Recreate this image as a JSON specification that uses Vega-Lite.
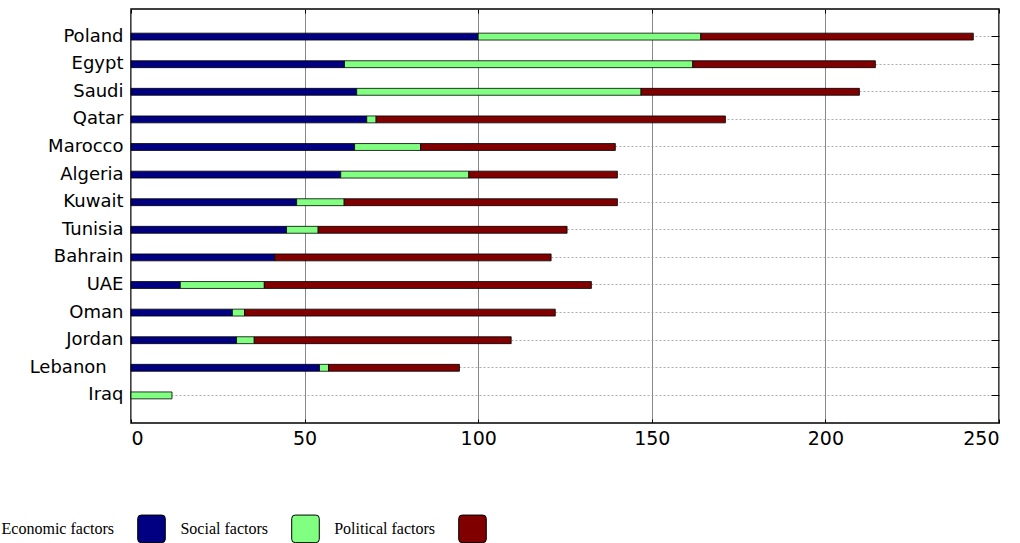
{
  "$schema": "https://vega.github.io/schema/vega-lite/v6.json",
  "description": "Stacked factors by country",
  "autosize": "none",
  "padding": {"left": 131, "top": 9, "right": 21, "bottom": 120},
  "width": 868,
  "height": 414,
  "config": {
    "view": {"stroke": "black", "strokeWidth": 1.5},
    "axis": {
      "labelFont": "DejaVu Sans",
      "labelColor": "black",
      "domain": false,
      "bandPosition": 0.5
    },
    "legend": {
      "labelFont": "Liberation Serif"
    }
  },
  "data": {
    "values": [
      {"country": "Poland", "factor": "Economic factors", "value": 100},
      {"country": "Poland", "factor": "Social factors", "value": 64.1},
      {"country": "Poland", "factor": "Political factors", "value": 78.5},
      {"country": "Egypt", "factor": "Economic factors", "value": 61.5},
      {"country": "Egypt", "factor": "Social factors", "value": 100.3},
      {"country": "Egypt", "factor": "Political factors", "value": 52.6},
      {"country": "Saudi", "factor": "Economic factors", "value": 65},
      {"country": "Saudi", "factor": "Social factors", "value": 81.9},
      {"country": "Saudi", "factor": "Political factors", "value": 62.9},
      {"country": "Qatar", "factor": "Economic factors", "value": 67.9},
      {"country": "Qatar", "factor": "Social factors", "value": 2.7},
      {"country": "Qatar", "factor": "Political factors", "value": 100.6},
      {"country": "Marocco", "factor": "Economic factors", "value": 64.4},
      {"country": "Marocco", "factor": "Social factors", "value": 19},
      {"country": "Marocco", "factor": "Political factors", "value": 56.1},
      {"country": "Algeria", "factor": "Economic factors", "value": 60.4},
      {"country": "Algeria", "factor": "Social factors", "value": 36.9},
      {"country": "Algeria", "factor": "Political factors", "value": 42.8},
      {"country": "Kuwait", "factor": "Economic factors", "value": 47.7},
      {"country": "Kuwait", "factor": "Social factors", "value": 13.7},
      {"country": "Kuwait", "factor": "Political factors", "value": 78.7},
      {"country": "Tunisia", "factor": "Economic factors", "value": 44.8},
      {"country": "Tunisia", "factor": "Social factors", "value": 9.1},
      {"country": "Tunisia", "factor": "Political factors", "value": 71.7},
      {"country": "Bahrain", "factor": "Economic factors", "value": 41.4},
      {"country": "Bahrain", "factor": "Political factors", "value": 79.6},
      {"country": "UAE", "factor": "Economic factors", "value": 14.2},
      {"country": "UAE", "factor": "Social factors", "value": 24.2},
      {"country": "UAE", "factor": "Political factors", "value": 94.2},
      {"country": "Oman", "factor": "Economic factors", "value": 29.2},
      {"country": "Oman", "factor": "Social factors", "value": 3.5},
      {"country": "Oman", "factor": "Political factors", "value": 89.5},
      {"country": "Jordan", "factor": "Economic factors", "value": 30.4},
      {"country": "Jordan", "factor": "Social factors", "value": 5.1},
      {"country": "Jordan", "factor": "Political factors", "value": 74},
      {"country": "Lebanon", "factor": "Economic factors", "value": 54.3},
      {"country": "Lebanon", "factor": "Social factors", "value": 2.6},
      {"country": "Lebanon", "factor": "Political factors", "value": 37.7},
      {"country": "Iraq", "factor": "Social factors", "value": 11.8}
    ]
  },
  "transform": [
    {"calculate": "indexof(['Economic factors', 'Social factors', 'Political factors'], datum.factor)", "as": "stackRank"}
  ],
  "encoding": {
    "y": {
      "field": "country",
      "type": "nominal",
      "sort": ["Poland", "Egypt", "Saudi", "Qatar", "Marocco", "Algeria", "Kuwait", "Tunisia", "Bahrain", "UAE", "Oman", "Jordan", "Lebanon", "Iraq"],
      "scale": {"paddingInner": 0.75, "paddingOuter": 0.875}
    },
    "x": {
      "field": "value",
      "type": "quantitative",
      "stack": "zero",
      "scale": {"domain": [0, 250], "nice": false}
    },
    "order": {"field": "stackRank", "type": "quantitative"},
    "color": {
      "field": "factor",
      "type": "nominal",
      "scale": {
        "domain": ["Economic factors", "Social factors", "Political factors"],
        "range": ["#000080", "#80ff80", "#800000"]
      }
    }
  },
  "layer": [
    {
      "mark": {"type": "bar", "stroke": "black", "strokeWidth": 0.8},
      "encoding": {
        "y": {
          "field": "country",
          "type": "nominal",
          "sort": ["Poland", "Egypt", "Saudi", "Qatar", "Marocco", "Algeria", "Kuwait", "Tunisia", "Bahrain", "UAE", "Oman", "Jordan", "Lebanon", "Iraq"],
          "title": null,
          "axis": {
            "orient": "left",
            "ticks": false,
            "labelPadding": 8,
            "labelFontSize": 18,
            "labelExpr": "datum.label == 'Lebanon' ? 'Lebanon\u2009\u2800' : datum.label",
            "grid": true,
            "gridColor": "#999999",
            "gridDash": [2, 2],
            "gridWidth": 0.8
          }
        },
        "x": {
          "field": "value",
          "type": "quantitative",
          "title": null,
          "axis": {
            "orient": "bottom",
            "values": [0, 50, 100, 150, 200, 250],
            "tickSize": -4,
            "tickColor": "black",
            "labelPadding": 10,
            "labelFontSize": 19,
            "grid": true,
            "gridColor": "#888888",
            "gridWidth": 1
          }
        },
        "color": {
          "field": "factor",
          "type": "nominal",
          "title": null,
          "legend": {
            "orient": "none",
            "legendX": 6,
            "legendY": 505,
            "direction": "horizontal",
            "columns": 3,
            "labelFontSize": 16,
            "labelColor": "black",
            "labelAlign": "right",
            "labelOffset": -52,
            "columnPadding": 12,
            "symbolSize": 760,
            "symbolStrokeWidth": 1,
            "symbolType": "M -0.75,-1 L 0.75,-1 Q 1,-1 1,-0.75 L 1,0.75 Q 1,1 0.75,1 L -0.75,1 Q -1,1 -1,0.75 L -1,-0.75 Q -1,-1 -0.75,-1 Z"
          }
        }
      }
    },
    {
      "mark": {"type": "bar", "opacity": 0},
      "encoding": {
        "y": {
          "field": "country",
          "type": "nominal",
          "sort": ["Poland", "Egypt", "Saudi", "Qatar", "Marocco", "Algeria", "Kuwait", "Tunisia", "Bahrain", "UAE", "Oman", "Jordan", "Lebanon", "Iraq"],
          "title": null,
          "axis": {
            "orient": "right",
            "labels": false,
            "grid": false,
            "tickSize": -8,
            "tickColor": "black"
          }
        },
        "x": {
          "field": "value",
          "type": "quantitative",
          "title": null,
          "axis": {
            "orient": "top",
            "values": [0, 50, 100, 150, 200, 250],
            "labels": false,
            "grid": false,
            "tickSize": -4,
            "tickColor": "black"
          }
        },
        "color": {"field": "factor", "type": "nominal", "legend": null}
      }
    }
  ],
  "resolve": {"axis": {"x": "independent", "y": "independent"}}
}
